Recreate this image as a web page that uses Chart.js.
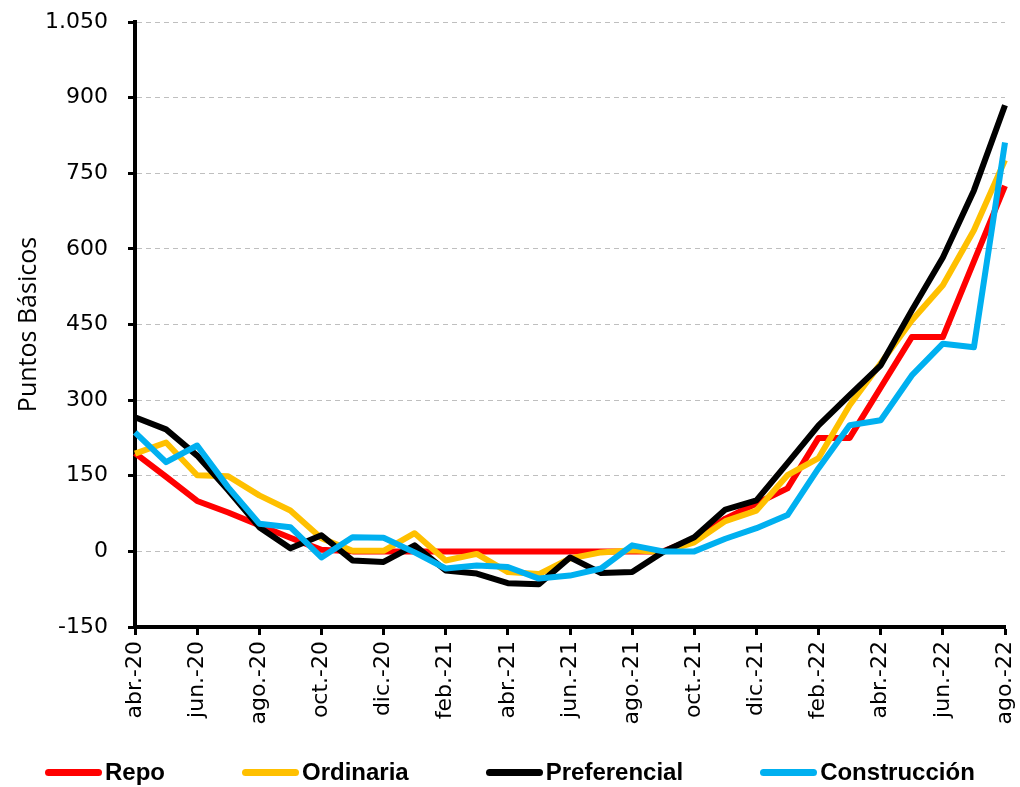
<!DOCTYPE html>
<html>
<head>
<meta charset="utf-8">
<script src="https://cdn.jsdelivr.net/npm/chart.js@4.4.1/dist/chart.umd.min.js"></script>
<style>
  html, body { margin: 0; padding: 0; background: #fff; }
  #wrap { position: relative; width: 1020px; height: 787px; }
  #legend {
    position: absolute; left: 45px; top: 758px;
    display: flex; align-items: center; gap: 77px;
    font-family: "Liberation Sans Narrow", "Liberation Sans", sans-serif;
    font-weight: bold; font-size: 24px; color: #000;
  }
  .item { display: flex; align-items: center; gap: 3px; }
  .swatch { width: 57px; height: 7px; border-radius: 4px; }
</style>
</head>
<body>
<div id="wrap">
  <canvas id="c" width="1020" height="787"></canvas>
  <div id="legend"></div>
</div>
<script>
// Monthly spreads in basis points, abr.-20 .. ago.-22.
const months = [
  "abr.-20", "may.-20", "jun.-20", "jul.-20", "ago.-20", "sep.-20", "oct.-20", "nov.-20",
  "dic.-20", "ene.-21", "feb.-21", "mar.-21", "abr.-21", "may.-21", "jun.-21", "jul.-21",
  "ago.-21", "sep.-21", "oct.-21", "nov.-21", "dic.-21", "ene.-22", "feb.-22", "mar.-22",
  "abr.-22", "may.-22", "jun.-22", "jul.-22", "ago.-22",
];
const repo = [195, 148, 100, 77, 52, 27, 3, 0, 0, 0, 0, 0, 0, 0, 0, 0, 0, 0, 25, 65, 95, 125, 225, 225, 325, 425, 425, 575, 725];
const ordinaria = [194, 216, 151, 149, 111, 81, 26, 1, 1, 36, -18, -5, -41, -45, -14, -2, 2, -1, 18, 60, 81, 151, 185, 290, 373, 458, 528, 637, 776];
const preferencial = [266, 242, 190, 121, 48, 6, 32, -18, -21, 12, -38, -44, -63, -65, -12, -43, -41, -1, 28, 83, 101, 175, 250, 310, 369, 478, 583, 716, 885];
const construccion = [236, 177, 210, 127, 55, 48, -12, 28, 27, -2, -34, -28, -31, -54, -48, -34, 12, 0, 0, 25, 46, 72, 165, 250, 260, 349, 412, 405, 811];

const seriesNames = ["Repo", "Ordinaria", "Preferencial", "Construcción"];
const seriesColors = ["#ff0000", "#ffc000", "#000000", "#00b0f0"];
const seriesData = [repo, ordinaria, preferencial, construccion];

// "1.050" style thousands separator
const fmt = (v) => String(v).replace(/\B(?=(\d{3})+(?!\d))/g, ".");

const chart = new Chart(document.getElementById("c"), {
  type: "line",
  data: {
    labels: months,
    datasets: seriesData.map((d, i) => ({
      label: seriesNames[i],
      data: d,
      borderColor: seriesColors[i],
      backgroundColor: seriesColors[i],
      borderWidth: 6,
      pointRadius: 0,
      tension: 0,
      borderJoinStyle: "round",
      order: seriesData.length - i, // later series drawn on top, like the source
    })),
  },
  options: {
    responsive: false,
    animation: false,
    layout: { padding: { top: 22, right: 15, bottom: 0, left: 0 } },
    plugins: { legend: { display: false }, tooltip: { enabled: false } },
    scales: {
      x: {
        offset: false,
        // fixed band under the plot; drop the label overhang padding so the
        // plot area lands where the source has it
        afterFit: (s) => { s.height = 160; s.paddingLeft = 0; s.paddingRight = 0; },
        border: { color: "#000", width: 4 },
        grid: {
          drawOnChartArea: false,
          drawTicks: true,
          tickLength: 8,
          tickWidth: 3,
          tickColor: (ctx) => (ctx.index % 2 === 0 ? "#000" : "rgba(0,0,0,0)"),
        },
        ticks: {
          autoSkip: false,
          maxRotation: 90,
          minRotation: 90,
          padding: 6,
          color: "#000",
          font: { family: "DejaVu Sans", size: 22 },
          callback: (v, i) => (i % 2 === 0 ? months[i] : ""),
        },
      },
      y: {
        min: -150,
        max: 1050,
        afterFit: (s) => { s.width = 135; s.paddingTop = 0; s.paddingBottom = 0; },
        border: { color: "#000", width: 4, dash: [5, 4] },
        grid: {
          color: "#bfbfbf",
          lineWidth: 1,
          tickLength: 7,
          tickWidth: 3,
          tickColor: "#000",
          tickBorderDash: [],
        },
        ticks: {
          stepSize: 150,
          padding: 20,
          color: "#000",
          font: { family: "DejaVu Sans", size: 22 },
          callback: (v) => fmt(v),
        },
        title: {
          display: true,
          text: "Puntos Básicos",
          color: "#000",
          padding: { top: 14, bottom: 0 },
          font: { family: "Open Sans", size: 25 },
        },
      },
    },
  },
});

// HTML legend built from the chart's own datasets
const legend = document.getElementById("legend");
chart.data.datasets.forEach((ds) => {
  const item = document.createElement("div");
  item.className = "item";
  item.innerHTML = `<span class="swatch" style="background:${ds.borderColor}"></span><span>${ds.label}</span>`;
  legend.appendChild(item);
});
</script>
</body>
</html>
